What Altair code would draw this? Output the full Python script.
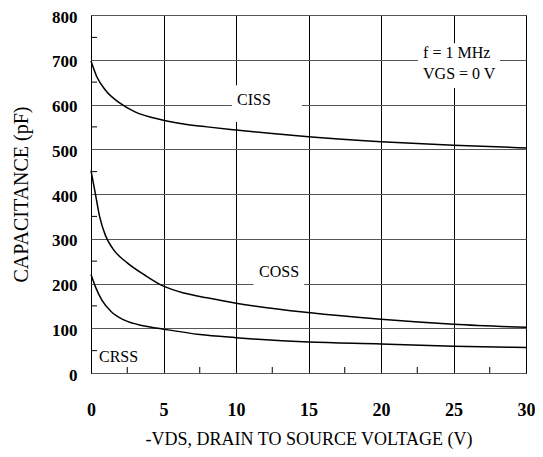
import altair as alt
import pandas as pd

# ---- data ----
ciss_vds = [0, 0.4, 1, 2, 3, 5, 6.5, 8, 10, 12.5, 15, 20, 25, 30]
ciss_cap = [697, 662, 632, 603, 584, 565, 556, 550, 543, 535, 528, 517, 509, 503]

coss_vds = [0, 0.3, 0.6, 1, 1.5, 2.5, 3.7, 5, 6.5, 8, 10, 15, 20, 25, 30]
coss_cap = [452, 401, 349, 307, 278, 246, 219, 194, 178, 168, 156, 135, 120, 109, 102]

crss_vds = [0, 0.3, 0.75, 1.4, 2.3, 3.7, 5, 7.5, 10, 15, 20, 25, 30]
crss_cap = [220, 193, 163, 137, 118, 105, 98, 86, 79, 69, 65, 60, 57]

x_ticks = [0, 5, 10, 15, 20, 25, 30]
y_ticks = [0, 100, 200, 300, 400, 500, 600, 700, 800]
x_minor = [2.5, 7.5, 12.5, 17.5, 22.5, 27.5]
y_minor = [50, 150, 250, 350, 450, 550, 650, 750]

x_title = "-VDS, DRAIN TO SOURCE VOLTAGE (V)"
y_title = "CAPACITANCE (pF)"

# curve labels (centered)
curve_text = ["CISS", "COSS"]
curve_x = [11.24, 12.97]
curve_y = [610, 226]

# left-aligned labels
left_text = ["CRSS", "f = 1 MHz", "VGS = 0 V"]
left_x = [0.55, 22.9, 22.9]
left_y = [35, 715, 668]

# white boxes behind the labels (x1, x2, y1, y2)
box_x1 = [9.72, 11.2, 22.55]
box_x2 = [14.55, 14.7, 28.2]
box_y1 = [561, 192, 637]
box_y2 = [643, 258, 737]

FONT = "Times New Roman, Liberation Serif, serif"

rows = []
for name, vs, cs in [("CISS", ciss_vds, ciss_cap), ("COSS", coss_vds, coss_cap), ("CRSS", crss_vds, crss_cap)]:
    for v, c in zip(vs, cs):
        rows.append({"series": name, "vds": v, "cap": c})
df = pd.DataFrame(rows)

boxes = pd.DataFrame({"x1": box_x1, "x2": box_x2, "y1": box_y1, "y2": box_y2})
clabels = pd.DataFrame({"text": curve_text, "x": curve_x, "y": curve_y})
llabels = pd.DataFrame({"text": left_text, "x": left_x, "y": left_y})

xs = alt.Scale(domain=[0, 30], nice=False, zero=False)
ys = alt.Scale(domain=[0, 800], nice=False)

W, H = 435, 358

lines = alt.Chart(df).mark_line(color="black", strokeWidth=1.5, interpolate="monotone").encode(
    x=alt.X("vds:Q", scale=xs, axis=alt.Axis(
        values=x_ticks, title=x_title, grid=True, gridColor="black", gridWidth=1,
        ticks=False, domain=False, labelFont=FONT, labelFontSize=18, labelFontWeight="bold",
        labelColor="black", labelPadding=28, labelFlush=False,
        titleFont=FONT, titleFontSize=18, titleFontWeight="normal", titleColor="black",
        titleX=W / 2, titleY=66, titleBaseline="middle")),
    y=alt.Y("cap:Q", scale=ys, axis=alt.Axis(
        values=y_ticks, title=y_title, grid=True, gridColor="#555555", gridWidth=1,
        ticks=False, domain=False, labelFont=FONT, labelFontSize=17, labelFontWeight="bold",
        labelColor="black", labelPadding=14, labelFlush=False, labelOffset=2,
        titleFont=FONT, titleFontSize=20, titleFontWeight="normal", titleColor="black",
        titleX=-70, titleY=H / 2, titleBaseline="middle", titleAngle=270)),
    detail="series:N",
)

rects = alt.Chart(boxes).mark_rect(color="white", opacity=1).encode(
    x=alt.X("x1:Q", scale=xs), x2="x2:Q",
    y=alt.Y("y1:Q", scale=ys), y2="y2:Q",
)

ytick_df = pd.DataFrame({"v": y_minor})
xtick_df = pd.DataFrame({"v": x_minor})

yticks = alt.Chart(ytick_df).mark_rule(color="black", strokeWidth=1).encode(
    y=alt.Y("v:Q", scale=ys), x=alt.value(0), x2=alt.value(6))
xticks = alt.Chart(xtick_df).mark_rule(color="black", strokeWidth=1).encode(
    x=alt.X("v:Q", scale=xs), y=alt.value(H - 6), y2=alt.value(H))

ctexts = alt.Chart(clabels).mark_text(font=FONT, fontSize=16, color="black", baseline="middle",
                                      align="center").encode(
    x=alt.X("x:Q", scale=xs), y=alt.Y("y:Q", scale=ys), text="text:N")
ltexts = alt.Chart(llabels).mark_text(font=FONT, fontSize=16, color="black", baseline="middle",
                                      align="left").encode(
    x=alt.X("x:Q", scale=xs), y=alt.Y("y:Q", scale=ys), text="text:N")

chart = alt.layer(rects, lines, yticks, xticks, ctexts, ltexts).properties(
    width=W, height=H,
    padding={"left": 83, "top": 7, "right": 9, "bottom": 76},
    autosize=alt.AutoSizeParams(type="none"),
    background="white",
).configure_view(stroke="black", strokeWidth=1)

chart.save("out.html", embed_options={"renderer": "svg", "actions": False})
